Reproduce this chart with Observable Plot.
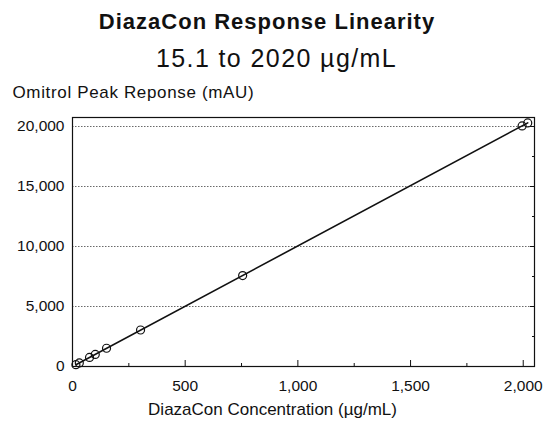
<!DOCTYPE html>
<html>
<head>
<meta charset="utf-8">
<script src="https://cdn.jsdelivr.net/npm/d3@7"></script>
<script src="https://cdn.jsdelivr.net/npm/@observablehq/plot@0.6"></script>
<style>
  html, body { margin: 0; padding: 0; background: white; }
  #wrap { position: relative; width: 543px; height: 422px; font-family: "Liberation Sans", Arial, sans-serif; color: #111; }
  #title { position: absolute; top: 9px; left: 0; width: 534px; text-align: center; font-size: 22px; letter-spacing: 1px; font-weight: bold; line-height: 26px; }
  #subtitle { position: absolute; top: 43px; left: 0; width: 553px; text-align: center; font-size: 25px; letter-spacing: 1.4px; line-height: 30px; }
  #chart { position: absolute; top: 75px; left: 0; }
</style>
</head>
<body>
<div id="wrap">
  <div id="title">DiazaCon Response Linearity</div>
  <div id="subtitle">15.1 to 2020 µg/mL</div>
  <div id="chart"></div>
</div>
<script>
// Concentration (µg/mL) and peak response (mAU)
const concentration = [15.1, 30.2, 75.5, 101, 151, 302, 755, 1995, 2020];
const response = [150, 300, 760, 1010, 1520, 3040, 7580, 20050, 20300];
const xTicks = [0, 500, 1000, 1500, 2000];
const xMinorTicks = [250, 750, 1250, 1750];
const yTicks = [0, 5000, 10000, 15000, 20000];
const yMinorTicks = [2500, 7500, 12500, 17500];
const yLabel = "Omitrol Peak Reponse (mAU)";
const xLabel = "DiazaCon Concentration (µg/mL)";

const data = concentration.map((c, i) => ({c, r: response[i]}));
const fmt = d3.format(",");

const chart = Plot.plot({
  width: 543,
  height: 347,
  marginLeft: 72,
  marginRight: 9,
  marginTop: 42,
  marginBottom: 56,
  style: {fontFamily: "'Liberation Sans', Arial, sans-serif", fontSize: "15px", color: "#111", background: "white"},
  x: {domain: [0, 2050]},
  y: {domain: [0, 20750]},
  marks: [
    Plot.gridY(yTicks.filter(d => d > 0), {stroke: "#222", strokeOpacity: 0.85, strokeDasharray: "1.5,1.5", strokeWidth: 0.8}),
    Plot.frame({stroke: "#111", strokeWidth: 1.2}),
    Plot.axisX(xTicks, {tickFormat: fmt, tickSize: 0, tickPadding: 13, label: null, fontSize: 15.5}),
    Plot.axisX(xTicks, {tickSize: -6, text: null, label: null, stroke: "#111"}),
    Plot.axisX(xMinorTicks, {tickSize: -3, text: null, label: null, stroke: "#111"}),
    Plot.axisY(yTicks, {tickFormat: fmt, tickSize: 0, tickPadding: 8, label: null, fontSize: 15.5}),
    Plot.axisY(yTicks, {anchor: "right", tickSize: -5, text: null, label: null, stroke: "#111"}),
    Plot.axisY(yMinorTicks, {anchor: "right", tickSize: -3, text: null, label: null, stroke: "#111"}),
    Plot.text([yLabel], {frameAnchor: "top-left", dx: -60, dy: -32, textAnchor: "start", fontSize: 17}),
    Plot.text([xLabel], {frameAnchor: "bottom", dx: -31, dy: 48, fontSize: 17}),
    Plot.linearRegressionY(data, {x: "c", y: "r", stroke: "#111", strokeWidth: 1.6, ci: 0}),
    Plot.dot(data, {x: "c", y: "r", r: 4, stroke: "#111", strokeWidth: 1.2, fill: "none"})
  ]
});
d3.select(chart).selectAll("text").filter(function() { return this.textContent === yLabel; })
  .style("letter-spacing", "0.65px");
document.getElementById("chart").appendChild(chart);
</script>
</body>
</html>
